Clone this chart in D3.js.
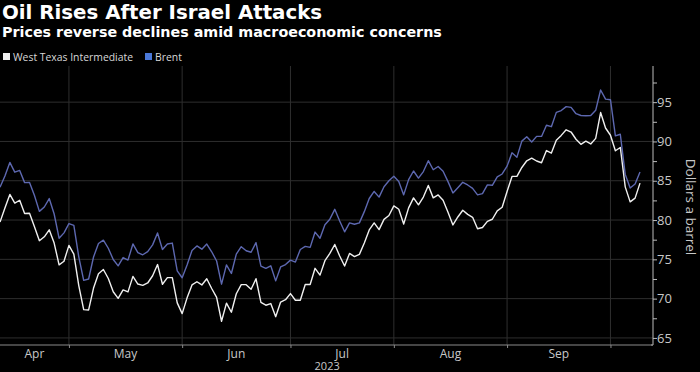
<!DOCTYPE html>
<html>
  <head>
    <meta charset="utf-8" />
    <script src="https://d3js.org/d3.v7.min.js"></script>
    <style>
      body { margin: 0; background: #000; }
      text { font-family: "Open Sans", sans-serif; }
      .grid line { stroke: #2e2e2e; stroke-width: 1px; }
      .tick-label { fill: #c8c8c8; font-size: 12px; }
    </style>
  </head>
  <body>

    <svg id="chart" width="700" height="372"></svg>

    <script>

      // one value per weekday, Apr 10 2023 .. Oct 9 2023
      var startDate = new Date(2023, 3, 10);
      var endDate = new Date(2023, 9, 9);

      var wti = [
        79.74, 81.53, 83.26, 82.16, 82.52, 80.83, 80.86, 79.16, 77.37, 77.87, 78.76, 77.07, 74.30, 74.76, 76.78,
        75.66, 71.66, 68.60, 68.56, 71.34, 73.16, 73.71, 72.56, 70.87, 70.04, 71.11, 70.86, 72.83, 71.86, 71.69, 71.99, 72.91, 74.34, 71.83, 72.67, 72.67, 69.46, 68.09,
        70.10, 71.74, 72.15, 71.74, 72.53, 71.29, 70.17, 67.12, 69.42, 68.27, 70.62, 71.78, 71.78, 71.19, 72.53, 69.51, 69.16, 69.37, 67.70, 69.56, 69.86, 70.64,
        69.79, 69.79, 71.79, 71.80, 73.86, 72.99, 74.83, 75.75, 76.89, 75.42, 74.15, 75.75, 75.35, 75.63, 77.07, 78.74, 79.63, 78.78, 80.09, 80.58, 81.80,
        81.37, 79.49, 81.55, 82.82, 81.94, 82.92, 84.40, 82.82, 83.19, 82.51, 80.99, 79.38, 80.39, 81.25, 80.72, 80.35, 78.89, 79.05, 79.83, 80.10, 81.16, 81.63, 83.63,
        85.55, 85.55, 86.69, 87.54, 87.87, 87.51, 87.29, 88.84, 88.52, 90.16, 90.77, 91.48, 91.20, 90.28, 89.63, 90.03, 89.68, 90.39, 93.68, 91.71, 90.79,
        88.82, 89.23, 84.22, 82.31, 82.79, 84.70
      ];

      var brent = [
        84.18, 85.61, 87.33, 86.09, 86.31, 84.76, 84.77, 83.12, 81.10, 81.66, 82.73, 80.77, 77.69, 78.37, 79.54,
        79.31, 75.32, 72.33, 72.50, 75.30, 77.01, 77.44, 76.41, 74.98, 74.17, 75.23, 74.91, 76.96, 75.86, 75.58, 75.99, 76.84, 78.36, 76.26, 76.95, 77.07, 73.54, 72.66,
        74.28, 76.13, 76.71, 76.29, 76.95, 75.96, 74.79, 71.84, 74.29, 73.20, 75.67, 76.61, 76.09, 75.90, 77.12, 74.14, 73.85, 74.18, 72.26, 74.03, 74.34, 74.90,
        74.65, 76.25, 76.65, 76.52, 78.47, 77.69, 79.40, 80.11, 81.36, 79.87, 78.50, 79.63, 79.46, 79.64, 81.07, 82.74, 83.64, 82.92, 84.24, 84.99, 85.56,
        84.91, 83.20, 85.14, 86.24, 85.34, 86.17, 87.55, 86.40, 86.81, 86.21, 84.89, 83.45, 84.12, 84.80, 84.46, 84.03, 83.21, 83.36, 84.48, 84.42, 85.49, 85.86, 86.86,
        88.55, 88.00, 90.04, 90.60, 89.92, 90.65, 90.64, 92.06, 91.88, 93.70, 93.93, 94.43, 94.34, 93.53, 93.30, 93.27, 93.29, 93.96, 96.55, 95.38, 95.31,
        90.71, 90.92, 85.81, 84.07, 84.58, 86.10
      ];

      var yTicks = [65, 70, 75, 80, 85, 90, 95];
      var monthNames = ["Apr", "May", "Jun", "Jul", "Aug", "Sep"];

      var svg = d3.select("#chart");

      var plotLeft = 0, plotRight = 653, plotTop = 66, plotBottom = 345;

      // weekday dates, equally spaced like the original
      var dates = d3.timeDay.range(startDate, d3.timeDay.offset(endDate, 1))
        .filter(function(d) { return d.getDay() != 0 && d.getDay() != 6; });

      var x = d3.scaleLinear()
        .domain([0, dates.length - 1])
        .range([plotLeft, 640]);

      var y = d3.scaleLinear()
        .domain([64.1, 99.6])
        .range([plotBottom, plotTop]);

      // last weekday of each month -> month boundary ticks
      var monthEnds = [];
      dates.forEach(function(d, i) {
        var next = dates[i + 1];
        if (next && next.getMonth() != d.getMonth()) monthEnds.push(i);
      });

      // horizontal grid
      svg.append("g").attr("class", "grid")
        .selectAll("line").data(yTicks).enter().append("line")
        .attr("x1", plotLeft).attr("x2", plotRight)
        .attr("y1", function(d) { return y(d); })
        .attr("y2", function(d) { return y(d); });

      // vertical grid
      svg.append("g").attr("class", "grid")
        .selectAll("line").data(monthEnds).enter().append("line")
        .attr("x1", function(d) { return x(d); })
        .attr("x2", function(d) { return x(d); })
        .attr("y1", plotTop).attr("y2", plotBottom);

      // lines
      var line = d3.line()
        .x(function(d, i) { return x(i); })
        .y(function(d) { return y(d); });

      svg.append("path").datum(brent)
        .attr("d", line)
        .attr("fill", "none")
        .attr("stroke", "#5d68b0")
        .attr("stroke-width", 1.4)
        .attr("stroke-linejoin", "round");

      svg.append("path").datum(wti)
        .attr("d", line)
        .attr("fill", "none")
        .attr("stroke", "#f0f0f0")
        .attr("stroke-width", 1.4)
        .attr("stroke-linejoin", "round");

      // right axis
      var yAxis = d3.axisRight(y)
        .tickValues(d3.range(65, 99, 2.5))
        .tickSize(4)
        .tickFormat(function(d) { return d % 5 == 0 ? d : ""; });

      var gy = svg.append("g")
        .attr("transform", "translate(" + plotRight + ",0)")
        .call(yAxis);
      gy.select(".domain").attr("stroke", "#bbb").attr("d", "M0," + plotTop + "V" + plotBottom + "H-2");
      gy.selectAll(".tick line").attr("stroke", "#bbb");
      gy.selectAll(".tick text")
        .attr("x", 4)
        .attr("fill", "#c8c8c8")
        .style("font-size", "13px")
        .style("font-family", "'Open Sans', sans-serif");

      // bottom axis
      var xAxis = d3.axisBottom(x)
        .tickValues(monthEnds)
        .tickSize(3)
        .tickFormat("");

      var gx = svg.append("g")
        .attr("transform", "translate(0," + plotBottom + ")")
        .call(xAxis);
      gx.select(".domain").attr("stroke", "#8a8a8a").attr("d", "M" + plotLeft + ",0H" + plotRight);
      gx.selectAll(".tick line").attr("stroke", "#8a8a8a");

      // month labels centred between boundaries
      var bounds = [0].concat(monthEnds);
      svg.append("g").selectAll("text").data(monthNames).enter().append("text")
        .attr("class", "tick-label")
        .attr("x", function(d, i) { return (x(bounds[i]) + x(bounds[i + 1])) / 2; })
        .attr("y", 358)
        .attr("text-anchor", "middle")
        .text(function(d) { return d; });

      svg.append("text")
        .attr("class", "tick-label")
        .attr("x", (x(monthEnds[2]) + x(monthEnds[3])) / 2 - 15)
        .attr("y", 369.5)
        .attr("text-anchor", "middle")
        .style("font-size", "11px")
        .text("2023");

      // axis title
      svg.append("text")
        .attr("transform", "translate(686,207) rotate(90)")
        .attr("text-anchor", "middle")
        .attr("fill", "#c8c8c8")
        .style("font-size", "13.5px")
        .text("Dollars a barrel");

      // titles
      svg.append("text")
        .attr("x", 2).attr("y", 19)
        .attr("fill", "#fff")
        .style("font-family", "'DejaVu Sans', sans-serif")
        .style("font-weight", "bold")
        .style("font-size", "19.8px")
        .text("Oil Rises After Israel Attacks");

      svg.append("text")
        .attr("x", 2).attr("y", 37)
        .attr("fill", "#fff")
        .style("font-family", "'DejaVu Sans', sans-serif")
        .style("font-weight", "bold")
        .style("font-size", "14.3px")
        .text("Prices reverse declines amid macroeconomic concerns");

      // legend
      var legend = [
        { name: "West Texas Intermediate", color: "#f0f0f0", x: 3 },
        { name: "Brent", color: "#4a78d8", x: 145 }
      ];
      var lg = svg.append("g").selectAll("g").data(legend).enter().append("g")
        .attr("transform", function(d) { return "translate(" + d.x + ",53)"; });
      lg.append("rect").attr("width", 7).attr("height", 7).attr("fill", function(d) { return d.color; });
      lg.append("text")
        .attr("x", 10).attr("y", 7.5)
        .attr("fill", "#d8d8d8")
        .style("font-size", "10.4px")
        .text(function(d) { return d.name; });

    </script>

  </body>
</html>
